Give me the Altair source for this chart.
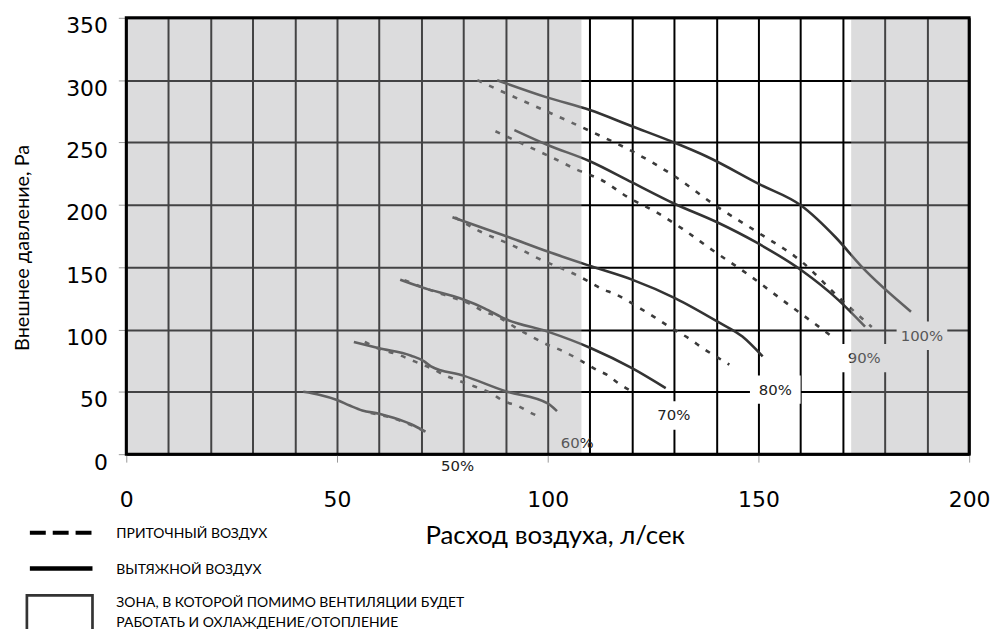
import altair as alt
import pandas as pd

# ---- data ----
speeds = ["50%", "60%", "70%", "80%", "90%", "100%"]

# exhaust air (solid)
exh_x = [
    [42, 46, 50, 53, 56, 60, 63.6, 67.6, 71],
    [54, 60, 67.6, 70.7, 72.3, 80, 90, 100, 102.2],
    [65, 70, 80, 85, 90, 100, 110.3, 120, 128],
    [77.4, 90, 100, 110.3, 120, 130.3, 140.3, 146.2, 151],
    [92.1, 100, 110, 120, 130.2, 140.2, 149.4, 160.2, 169, 175.3],
    [88, 100, 110, 120, 130, 137.6, 150.2, 160.2, 168.3, 174.6, 186.2],
]
exh_y = [
    [50, 47.5, 43.5, 39, 35, 32.5, 29, 24, 18],
    [90, 85, 79, 74.5, 70.5, 63, 50.5, 40.7, 34.5],
    [140, 134, 124, 117, 108.4, 98.3, 85, 69, 53],
    [190, 175, 162.5, 150.7, 140, 125, 106.3, 94.3, 78.4],
    [260, 248, 235, 218, 200.7, 186, 170, 147.5, 123.6, 102.3],
    [300, 286, 276, 263, 250, 239, 216.6, 199.3, 174, 150, 114.3],
]

# supply air (dashed)
sup_x = [
    [58, 63.6, 66.4, 68.4, 71.1],
    [56.6, 60, 64.4, 68.4, 72.3, 75.8, 78.6, 82.5, 86.4, 89.6, 93.1, 95.5, 98.2],
    [66, 73.5, 77.4, 81.3, 84.5, 88.4, 92, 95, 99.8, 103.4, 108.9, 112, 114, 116.7, 119.9],
    [78, 84, 87.6, 90.8, 94.3, 96.7, 103.4, 106.9, 110, 113.2, 115.6, 119.1, 122.2,
     125.4, 128.5, 134, 136.8, 139.9, 143.1],
    [87.6, 94.3, 101, 107.7, 112.4, 119.1, 125.8, 132, 139.2, 147.8, 155.7, 164.3, 167.5],
    [83.3, 90.4, 100.6, 110.8, 120, 129.7, 140, 149.8, 160.4, 169, 176.9],
]
sup_y = [
    [33, 28.5, 25, 22.3, 17.5],
    [90, 84.5, 80, 74.4, 69, 63, 59.3, 54.5, 49.2, 42.5, 38.5, 34, 29.7],
    [139.5, 130, 125.7, 121, 115, 109.8, 102.3, 96.5, 88, 83, 73, 67, 63.8, 57, 50.5],
    [190, 178.6, 173.2, 168.8, 163, 158.7, 148.8, 143.5, 138, 132, 129, 122.8, 116.4,
     109.8, 103, 91.7, 85, 78.4, 71.8],
    [259, 248.5, 238, 227, 220.6, 206, 194, 180.7, 163.4, 143.5, 123.6, 102.3, 94.3],
    [300, 289, 273.7, 258, 243, 223.8, 199, 178, 154, 126, 102],
]

# speed labels
label_x = [78.6, 107.0, 129.9, 154.0, 175.1, 188.8]
label_y = [-9.6, 8.8, 31.0, 51.8, 77.0, 95.0]
label_boxed = [False, False, True, True, True, True]

# zones where heating/cooling also works (grey)
zone_start = [0, 172]
zone_end = [108, 200]

x_ticks = list(range(0, 201, 10))
y_ticks = list(range(0, 351, 25))

legend_labels = [
    "ПРИТОЧНЫЙ ВОЗДУХ",
    "ВЫТЯЖНОЙ ВОЗДУХ",
    "ЗОНА, В КОТОРОЙ ПОМИМО ВЕНТИЛЯЦИИ БУДЕТ",
    "РАБОТАТЬ И ОХЛАЖДЕНИЕ/ОТОПЛЕНИЕ",
]

# ---- tables ----
def long(xs_list, ys_list, kind):
    rows = []
    for sp, xs, ys in zip(speeds, xs_list, ys_list):
        for i, (a, b) in enumerate(zip(xs, ys)):
            rows.append({"speed": sp, "kind": kind, "q": a, "p": b, "ord": i})
    return rows

exh_df = pd.DataFrame(long(exh_x, exh_y, "exhaust"))
sup_df = pd.DataFrame(long(sup_x, sup_y, "supply"))
lab_df = pd.DataFrame({"speed": speeds, "q": label_x, "p": label_y, "boxed": label_boxed})
zone_df = pd.DataFrame({"q": zone_start, "q2": zone_end})
dummy = pd.DataFrame({"k": [0]})

W, H = 848, 439

xscale = alt.Scale(domain=[0, 200], nice=False, zero=False)
yscale = alt.Scale(domain=[0, 350], nice=False, zero=False)

tick_cond = {"condition": {"test": "datum.value % 50 === 0", "value": 1}, "value": 0}
lab_expr = "datum.value % 50 === 0 ? datum.label : ''"

xaxis = alt.Axis(
    values=x_ticks, labelExpr=lab_expr, grid=True, gridColor="black", gridWidth=2,
    domain=False, tickColor="#999999", tickWidth=1, tickSize=8, tickOpacity=tick_cond,
    labelFont="DejaVu Sans", labelFontSize=22, labelColor="black", labelPadding=28,
    labelFlush=False, labelOverlap=False,
    title="Расход воздуха, л/сек", titleFont="Lato", titleFontSize=26,
    titleFontWeight="normal", titleColor="black", titleX=431, titleY=82,
    titleBaseline="middle", titleAlign="center",
)
yaxis = alt.Axis(
    values=y_ticks, labelExpr=lab_expr, grid=True, gridColor="black", gridWidth=2,
    domain=False, tickColor="#999999", tickWidth=1, tickSize=8, tickOpacity=tick_cond,
    labelFont="DejaVu Sans", labelFontSize=22, labelColor="black", labelPadding=11,
    labelOffset=8, labelFlush=False, labelOverlap=False,
    title="Внешнее давление, Pa", titleFont="Lato", titleFontSize=20,
    titleFontWeight="normal", titleColor="black", titleX=-104, titleY=231,
    titleAngle=270, titleBaseline="middle", titleAlign="center",
)

X = alt.X("q:Q", scale=xscale, axis=xaxis)
Y = alt.Y("p:Q", scale=yscale, axis=yaxis)

solid = alt.Chart(exh_df).mark_line(
    interpolate="monotone", color="#333333", strokeWidth=2.6
).encode(x=X, y=Y, detail="speed:N", order="ord:Q")

dashed = alt.Chart(sup_df).mark_line(
    interpolate="monotone", color="#3a3a3a", strokeWidth=2.6, strokeDash=[5, 8]
).encode(x=X, y=Y, detail="speed:N", order="ord:Q")

box_path = "M-1,-0.56H1V0.56H-1Z"
boxes = alt.Chart(lab_df).transform_filter("datum.boxed").mark_point(
    shape=box_path, filled=True, fill="white", opacity=1, strokeWidth=0, size=2600
).encode(x=X, y=Y)

labels = alt.Chart(lab_df).mark_text(
    font="DejaVu Sans", fontSize=15, color="#222222", align="center", baseline="middle"
).encode(x=X, y=Y, text="speed:N")

zones = alt.Chart(zone_df).mark_rect(color="#a8a8aa", opacity=0.4).encode(
    x=X, x2="q2:Q", y=alt.datum(0, scale=yscale), y2=alt.datum(350)
)

frame = alt.Chart(dummy).mark_rect(filled=False, stroke="black", strokeWidth=3).encode(
    x=alt.datum(0), x2=alt.datum(200), y=alt.datum(0), y2=alt.datum(350)
)

# ---- legend (drawn below the plot) ----
leg_dash = alt.Chart(dummy).mark_rule(
    color="black", strokeWidth=4, strokeDash=[16, 7]
).encode(x=alt.value(-97), x2=alt.value(-34), y=alt.value(518))
leg_solid = alt.Chart(dummy).mark_rule(color="black", strokeWidth=4.5).encode(
    x=alt.value(-97), x2=alt.value(-34), y=alt.value(554)
)
leg_box = alt.Chart(dummy).mark_rect(fill="white", stroke="#333333", strokeWidth=2.7).encode(
    x=alt.value(-100), x2=alt.value(-34), y=alt.value(581), y2=alt.value(640)
)
leg_texts = []
for txt, yy in zip(legend_labels, [519, 556, 589, 609]):
    leg_texts.append(
        alt.Chart(dummy).mark_text(
            text=txt, font="Lato", fontSize=14, color="black", align="left", baseline="middle"
        ).encode(x=alt.value(-10), y=alt.value(yy))
    )

chart = alt.layer(
    solid, dashed, boxes, labels, zones, frame, leg_dash, leg_solid, leg_box, *leg_texts
).properties(
    width=W, height=H,
    autosize=alt.AutoSizeParams(type="none"),
    padding={"left": 119, "top": 8, "right": 25, "bottom": 174},
).configure_view(strokeWidth=0, fill="white").configure(background="white")

chart.save("out.html", embed_options={"renderer": "svg", "actions": False})
